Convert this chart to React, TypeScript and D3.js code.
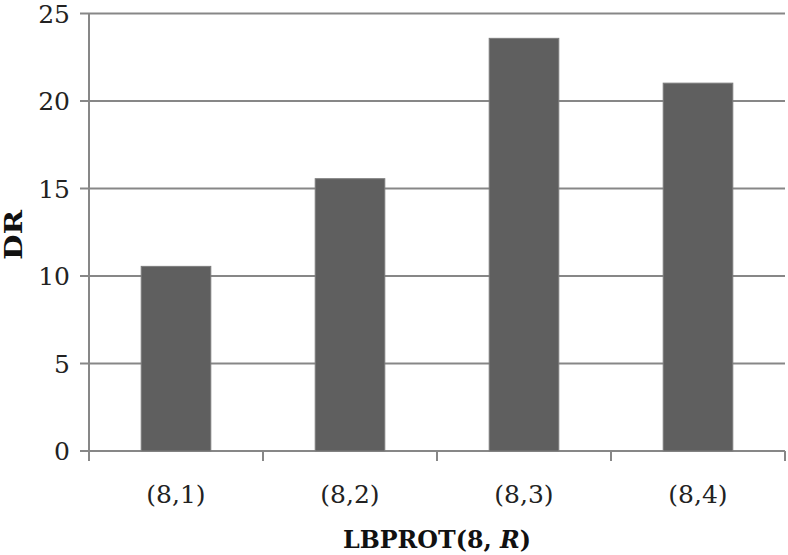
import React from "react";
import * as d3 from "d3";

const categories: string[] = ["(8,1)", "(8,2)", "(8,3)", "(8,4)"];
const values: number[] = [10.55, 15.56, 23.58, 21.02];
const yTicks: number[] = [0, 5, 10, 15, 20, 25];

const W = 788;
const H = 555;
const left = 89;
const right = 785;
const top = 13.5;
const bottom = 451;

export default function App() {
  const x = d3
    .scaleBand<string>()
    .domain(categories)
    .range([left, right])
    .paddingInner(0.6)
    .paddingOuter(0.3);
  const y = d3.scaleLinear().domain([0, 25]).range([bottom, top]);
  const step = (right - left) / categories.length;
  const grid = "#878787";
  const font = "'DejaVu Serif', serif";

  return (
    <svg
      width={W}
      height={H}
      style={{ position: "absolute", left: 0, top: 0, background: "#fff" }}
    >
      {yTicks.map((t) => (
        <g key={t}>
          <line x1={80} x2={right} y1={y(t)} y2={y(t)} stroke={grid} strokeWidth={2} />
          <text
            x={70}
            y={y(t) + 9}
            textAnchor="end"
            fontFamily={font}
            fontSize={25}
            fill="#222"
          >
            {t}
          </text>
        </g>
      ))}
      <line x1={left} x2={left} y1={top} y2={bottom + 10} stroke={grid} strokeWidth={2} />
      {d3.range(categories.length + 1).map((i) => (
        <line
          key={i}
          x1={left + i * step}
          x2={left + i * step}
          y1={bottom}
          y2={bottom + 10}
          stroke={grid}
          strokeWidth={2}
        />
      ))}
      {categories.map((c, i) => (
        <rect
          key={c}
          x={x(c)}
          y={y(values[i])}
          width={x.bandwidth()}
          height={bottom - y(values[i])}
          fill="#5f5f5f"
          stroke="#7d7d7d"
          strokeWidth={1}
        />
      ))}
      {categories.map((c) => (
        <text
          key={c}
          x={(x(c) as number) + x.bandwidth() / 2}
          y={503}
          textAnchor="middle"
          fontFamily={font}
          fontSize={25}
          fill="#222"
        >
          {c}
        </text>
      ))}
      <text
        x={(left + right) / 2}
        y={548}
        textAnchor="middle"
        fontFamily={font}
        fontSize={25}
        fontWeight="bold"
        fill="#111"
        textLength={188}
        lengthAdjust="spacingAndGlyphs"
      >
        LBPROT(8, <tspan fontStyle="italic">R</tspan>)
      </text>
      <text
        transform={`translate(22, 235) rotate(-90)`}
        textAnchor="middle"
        fontFamily={font}
        fontSize={25}
        fontWeight="bold"
        fill="#111"
        textLength={50}
        lengthAdjust="spacingAndGlyphs"
      >
        DR
      </text>
    </svg>
  );
}
